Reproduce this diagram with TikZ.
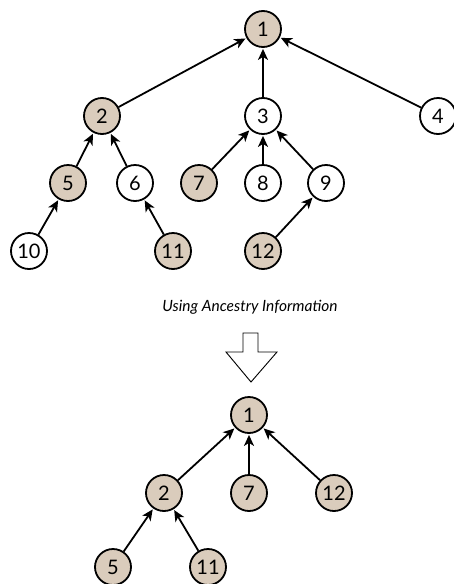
\documentclass[tikz,border=0pt]{standalone}
\usepackage{fontspec}
\setmainfont{Lato}
\usepackage{xcolor}
\usetikzlibrary{arrows.meta}
\definecolor{tan}{RGB}{218,204,188}

\tikzset{
  vtx/.style={circle,draw,line width=1.8pt,minimum size=36pt,inner sep=0pt,font=\fontsize{20}{20}\selectfont},
  hit/.style={vtx,fill=tan},
  up/.style={line width=1.8pt,-{Stealth[length=11pt,width=10pt,inset=3pt]},shorten >=1pt}
}

\begin{document}
\begin{tikzpicture}[x=1pt,y=-1pt]
\useasboundingbox (0,0) rectangle (454,584);
% full tree
\node (t1)  at (263, 29) [hit] {1};
\node (t2)  at (102,116) [hit] {2};
\node (t3)  at (263,116) [vtx] {3};
\node (t4)  at (438,116) [vtx] {4};
\node (t5)  at ( 68,183) [hit] {5};
\node (t6)  at (135,183) [vtx] {6};
\node (t7)  at (199,183) [hit] {7};
\node (t8)  at (263,183) [vtx] {8};
\node (t9)  at (326,183) [vtx] {9};
\node (t10) at ( 29,251) [vtx] {10};
\node (t11) at (173,251) [hit] {11};
\node (t12) at (263,251) [hit] {12};
\draw[up] (t2) -- (t1);
\draw[up] (t3) -- (t1);
\draw[up] (t4) -- (t1);
\draw[up] (t5) -- (t2);
\draw[up] (t6) -- (t2);
\draw[up] (t7) -- (t3);
\draw[up] (t8) -- (t3);
\draw[up] (t9) -- (t3);
\draw[up] (t10) -- (t5);
\draw[up] (t11) -- (t6);
\draw[up] (t12) -- (t9);
% caption and arrow
\node (cap) at (250,307) {\fontsize{15.5}{15.5}\selectfont\itshape Using Ancestry Information};
\draw[line width=0.9pt] (243,333) -- (258,333) -- (258,352) -- (277,352) -- (251,382)
  -- (226,352) -- (243,352) -- cycle;
% reduced tree
\node (b1)  at (249,415) [hit] {1};
\node (b2)  at (164,493) [hit] {2};
\node (b7)  at (249,493) [hit] {7};
\node (b12) at (334,493) [hit] {12};
\node (b5)  at (113,567) [hit] {5};
\node (b11) at (208,567) [hit] {11};
\draw[up] (b2) -- (b1);
\draw[up] (b7) -- (b1);
\draw[up] (b12) -- (b1);
\draw[up] (b5) -- (b2);
\draw[up] (b11) -- (b2);
\end{tikzpicture}
\end{document}
